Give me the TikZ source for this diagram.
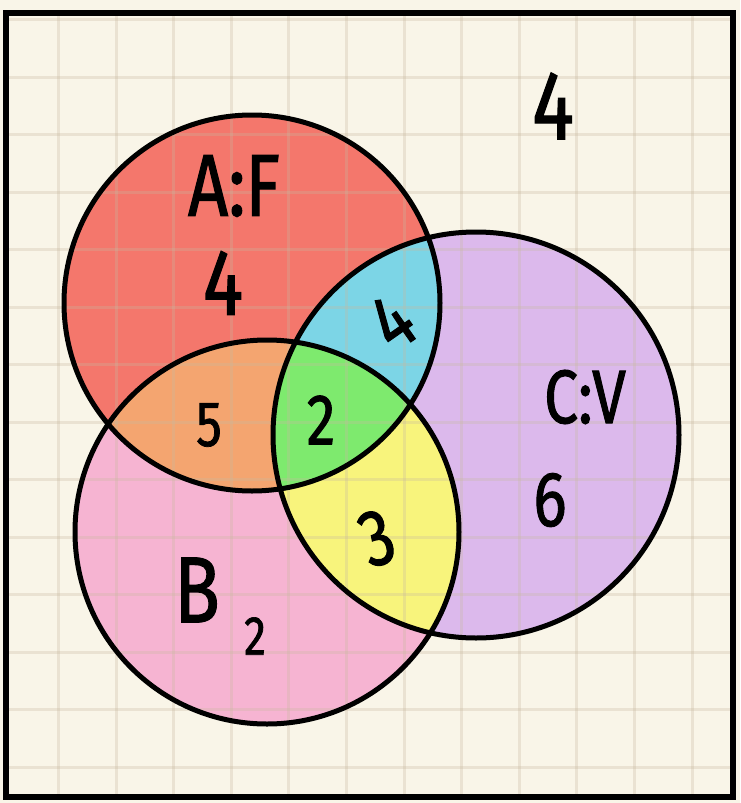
\documentclass[tikz,border=0pt]{standalone}
\usepackage{fontspec}
\setmainfont{Fira Sans}[FakeStretch=0.8,FakeBold=1.2]
\definecolor{cream}{RGB}{249,245,232}
\definecolor{gridc}{RGB}{200,185,160}
\definecolor{cA}{RGB}{244,119,108}
\definecolor{cB}{RGB}{246,180,210}
\definecolor{cC}{RGB}{220,185,236}
\definecolor{cAB}{RGB}{244,165,112}
\definecolor{cAC}{RGB}{124,213,230}
\definecolor{cBC}{RGB}{248,244,124}
\definecolor{cABC}{RGB}{126,234,110}
\begin{document}
\begin{tikzpicture}[x=1pt,y=-1pt,
  lbl/.style={font=\fontsize{#1}{#1}\selectfont, inner sep=0pt, text=black},
  ring/.style={draw=black, line width=5pt},
  gridline/.style={draw=gridc, line width=3pt, opacity=0.3}]
\def\circA{(252,303) circle (188pt)}
\def\circB{(267,532) circle (192pt)}
\def\circC{(476,435) circle (203pt)}
\useasboundingbox (0,0) rectangle (740,803);
\fill[cream] (0,0) rectangle (740,803);
% region fills
\fill[cA] \circA;
\fill[cB] \circB;
\fill[cC] \circC;
\begin{scope}\clip \circA; \fill[cAB] \circB; \end{scope}
\begin{scope}\clip \circA; \fill[cAC] \circC; \end{scope}
\begin{scope}\clip \circB; \fill[cBC] \circC; \end{scope}
\begin{scope}\clip \circA; \clip \circB; \fill[cABC] \circC; \end{scope}
% grid
\foreach \i in {0,...,11} {
  \draw[gridline] ({58.5+57.6*\i},10) -- ({58.5+57.6*\i},797);
}
\foreach \j in {0,...,13} {
  \draw[gridline] (5,{19.5+57.5*\j}) -- (735,{19.5+57.5*\j});
}
% outlines
\draw[ring] \circA;
\draw[ring] \circB;
\draw[ring] \circC;
% frame
\draw[black, line width=6pt] (6,13) rectangle (733,797);
% labels
\node[lbl=98] (outside) at (553,106) {4};
\node[lbl=88] (nameA) at (234,186) {A:F};
\node[lbl=94] (valA) at (223,283) {4};
\node[lbl=80, rotate=35] (valAC) at (392,322) {4};
\node[lbl=64] (valAB) at (209,425) {5};
\node[lbl=72] (valABC) at (321,420) {2};
\node[lbl=80, rotate=18] (valBC) at (377,538) {3};
\node[lbl=76] (nameC) at (585,397) {C:V};
\node[lbl=78] (valC) at (550,500) {6};
\node[lbl=94] (nameB) at (197,590) {B};
\node[lbl=55] (valB) at (255,636) {2};
\end{tikzpicture}
\end{document}
